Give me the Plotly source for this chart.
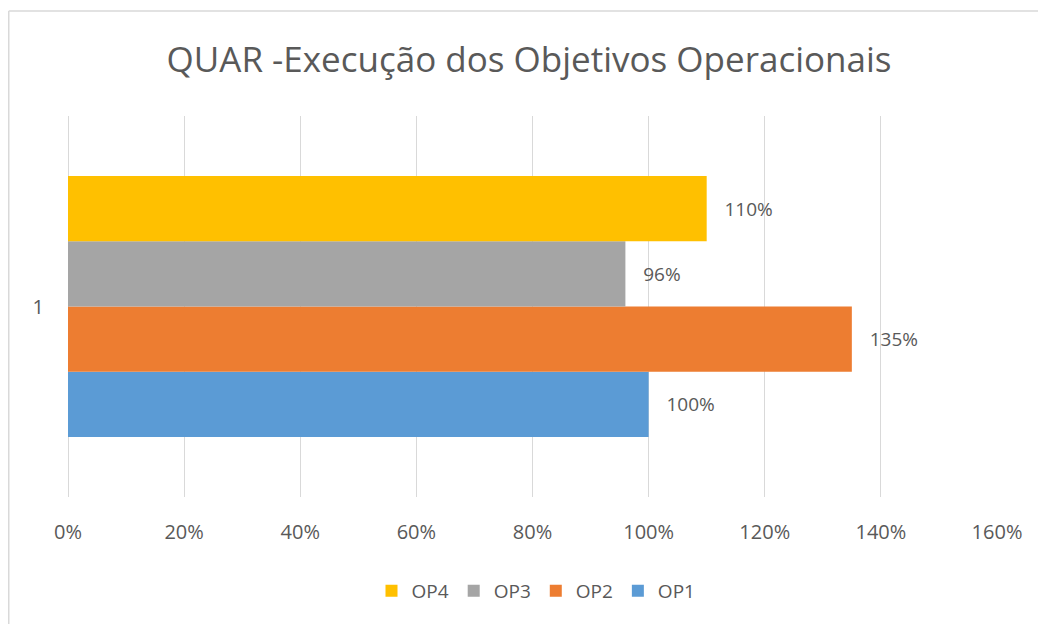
import plotly.graph_objects as go

categories = ["1"]
series_names = ["OP1", "OP2", "OP3", "OP4"]
series_values = [[1.00], [1.35], [0.96], [1.10]]
series_colors = ["#5B9BD5", "#ED7D31", "#A5A5A5", "#FFC000"]
tick_vals = [0, 0.2, 0.4, 0.6, 0.8, 1.0, 1.2, 1.4, 1.6]
tick_text = ["0%", "20%", "40%", "60%", "80%", "100%", "120%", "140%", "160%"]

# page body has an 8px margin, so the figure is drawn 8px smaller
OFF = 8
W, H = 1046 - OFF, 624 - OFF
L, T = 68 - OFF, 116 - OFF
R = W - (997 - OFF)
B = H - (497 - OFF)
pw, ph = W - L - R, H - T - B

font_family = "Open Sans, Noto Sans, sans-serif"
gray = "#595959"


def px_x(p):
    return (p - OFF - L) / pw


def px_y(p):
    return (H - B - (p - OFF)) / ph


fig = go.Figure()
for name, vals, col in zip(series_names, series_values, series_colors):
    fig.add_trace(go.Bar(
        y=categories, x=vals, name=name, orientation="h",
        marker=dict(color=col, line=dict(width=0)),
        text=[f"{v*100:.0f}%" for v in vals],
        textposition="outside",
        texttemplate="   %{text}",
        textfont=dict(family=font_family, size=19, color=gray),
        cliponaxis=False,
    ))

fig.update_layout(
    width=W, height=H,
    margin=dict(l=L, r=R, t=T, b=B),
    paper_bgcolor="white", plot_bgcolor="white",
    barmode="group", bargap=0.315, bargroupgap=0,
    title=dict(text="QUAR -Execução dos Objetivos Operacionais",
               x=px_x(529), xanchor="center", xref="paper",
               y=1 - (60 - OFF) / H, yanchor="middle",
               font=dict(family=font_family, size=35, color=gray)),
    xaxis=dict(range=[0, 1.6], tickvals=tick_vals, ticktext=tick_text,
               showgrid=True, gridcolor="#D9D9D9", gridwidth=1,
               zeroline=True, zerolinecolor="#D9D9D9", zerolinewidth=1,
               showline=False, ticks="",
               ticklabelstandoff=21,
               tickfont=dict(family=font_family, size=20, color=gray),
               fixedrange=True),
    yaxis=dict(showgrid=False, zeroline=False, showline=False, ticks="",
               ticklabelstandoff=23,
               tickfont=dict(family=font_family, size=20, color=gray)),
    legend=dict(orientation="h", traceorder="reversed",
                x=px_x(536), xanchor="center", y=px_y(591), yanchor="middle",
                font=dict(family=font_family, size=19, color=gray),
                itemwidth=30),
    showlegend=True,
    shapes=[
        dict(type="line", xref="paper", yref="paper",
             x0=px_x(8.75), x1=px_x(1060), y0=px_y(11), y1=px_y(11),
             line=dict(color="#D9D9D9", width=1.5)),
        dict(type="line", xref="paper", yref="paper",
             x0=px_x(8.75), x1=px_x(8.75), y0=px_y(11), y1=px_y(640),
             line=dict(color="#D9D9D9", width=1.5)),
    ],
)

fig.write_html("out.html")
